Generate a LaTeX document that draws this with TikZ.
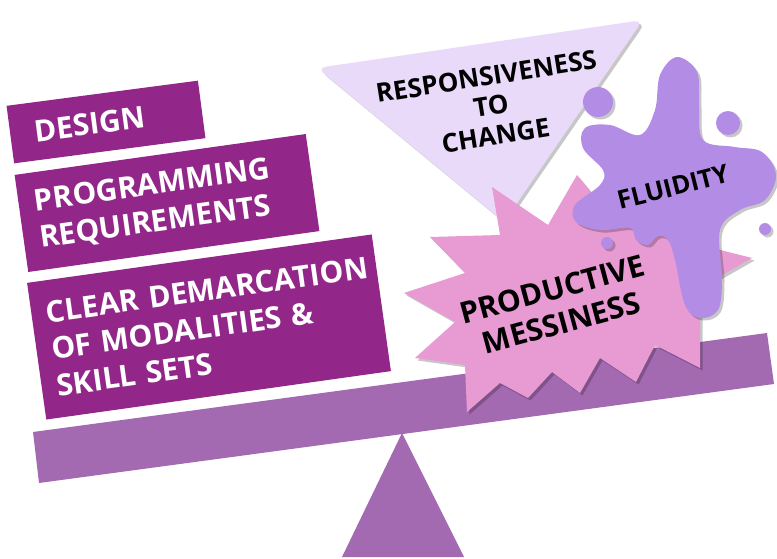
\documentclass[tikz,border=0pt]{standalone}
\usepackage{fontspec}
\setmainfont{Open Sans}
\usetikzlibrary{shadows}
\definecolor{boxpurple}{RGB}{146,39,137}
\definecolor{beampurple}{RGB}{163,106,178}
\definecolor{lightlav}{RGB}{232,218,248}
\definecolor{starpink}{RGB}{232,155,210}
\definecolor{splatpurple}{RGB}{179,140,230}
\tikzset{
  boxnode/.style={fill=boxpurple, text=white, inner ysep=0pt, align=left,
    font=\fontsize{30}{37}\selectfont\bfseries},
  softshadow/.style={drop shadow={shadow xshift=2.5pt, shadow yshift=-2.5pt, opacity=.22, fill=black}},
  blacktext/.style={text=black, align=center, inner sep=0pt},
}
\begin{document}
\begin{tikzpicture}[x=1pt,y=-1pt]
\useasboundingbox (0,0) rectangle (777,559);
% fulcrum and beam
\fill[beampurple] (402,433) -- (464,557) -- (342,557) -- cycle;
\fill[beampurple] (33,432) -- (767,333) -- (774,384) -- (39,483) -- cycle;
% left boxes
\node[boxnode, inner xsep=24pt, text width=145pt, minimum height=58pt, rotate=7.5] (design) at (106,122) {DESIGN};
\node[boxnode, inner xsep=16pt, text width=262pt, minimum height=98pt, rotate=8] (prog) at (167,203) {\mbox{PROGRAMMING}\\\mbox{REQUIREMENTS}};
\node[boxnode, inner xsep=15pt, text width=318pt, minimum height=138pt, rotate=8] (clear) at (209,327) {\mbox{CLEAR DEMARCATION}\\\mbox{OF MODALITIES \&}\\\mbox{SKILL SETS}};
% inverted triangle
\fill[lightlav, rounded corners=9pt, softshadow] (317,68) -- (643,20) -- (504,222) -- cycle;
\node[blacktext, rotate=9, font=\fontsize{26}{30}\selectfont\bfseries] (resp) at (491,106) {RESPONSIVENESS\\TO\\CHANGE};
% starburst
\fill[starpink, softshadow] (577,175) -- (610,215) -- (650,180) -- (680,240) -- (752,258) -- (705,285)
  -- (700,300) -- (700,368) -- (655,345) -- (636,382) -- (600,358) -- (580,393) -- (552,372)
  -- (528,398) -- (500,383) -- (467,412) -- (465,365) -- (415,358) -- (455,322) -- (404,293)
  -- (465,273) -- (430,237) -- (500,235) -- (492,187) -- (548,225) -- cycle;
\node[blacktext, rotate=15, font=\fontsize{30}{35}\selectfont\bfseries] (prod) at (557,306) {PRODUCTIVE\\MESSINESS};
% splat
\fill[splatpurple, softshadow] plot[smooth cycle, tension=0.6] coordinates {
  (677,57) (697,72) (699,105) (703,140) (735,147) (762,152) (776,175) (765,200) (740,210)
  (720,230) (722,280) (718,310) (700,318) (685,305) (675,260) (668,240) (658,236) (648,245)
  (636,240) (630,228) (600,230) (576,222) (575,205) (600,185) (603,170) (583,148) (585,128)
  (610,125) (640,135) (655,110) (660,75)};
\fill[splatpurple, softshadow] (598,102) circle (15);
\fill[splatpurple, softshadow] (728,123) circle (12);
\fill[splatpurple, softshadow] (607,243) circle (6);
\fill[splatpurple, softshadow] (765,229) circle (6);
\node[blacktext, rotate=14, font=\fontsize{25.5}{30}\selectfont\bfseries] (fluid) at (673,187) {FLUIDITY};
\end{tikzpicture}
\end{document}
